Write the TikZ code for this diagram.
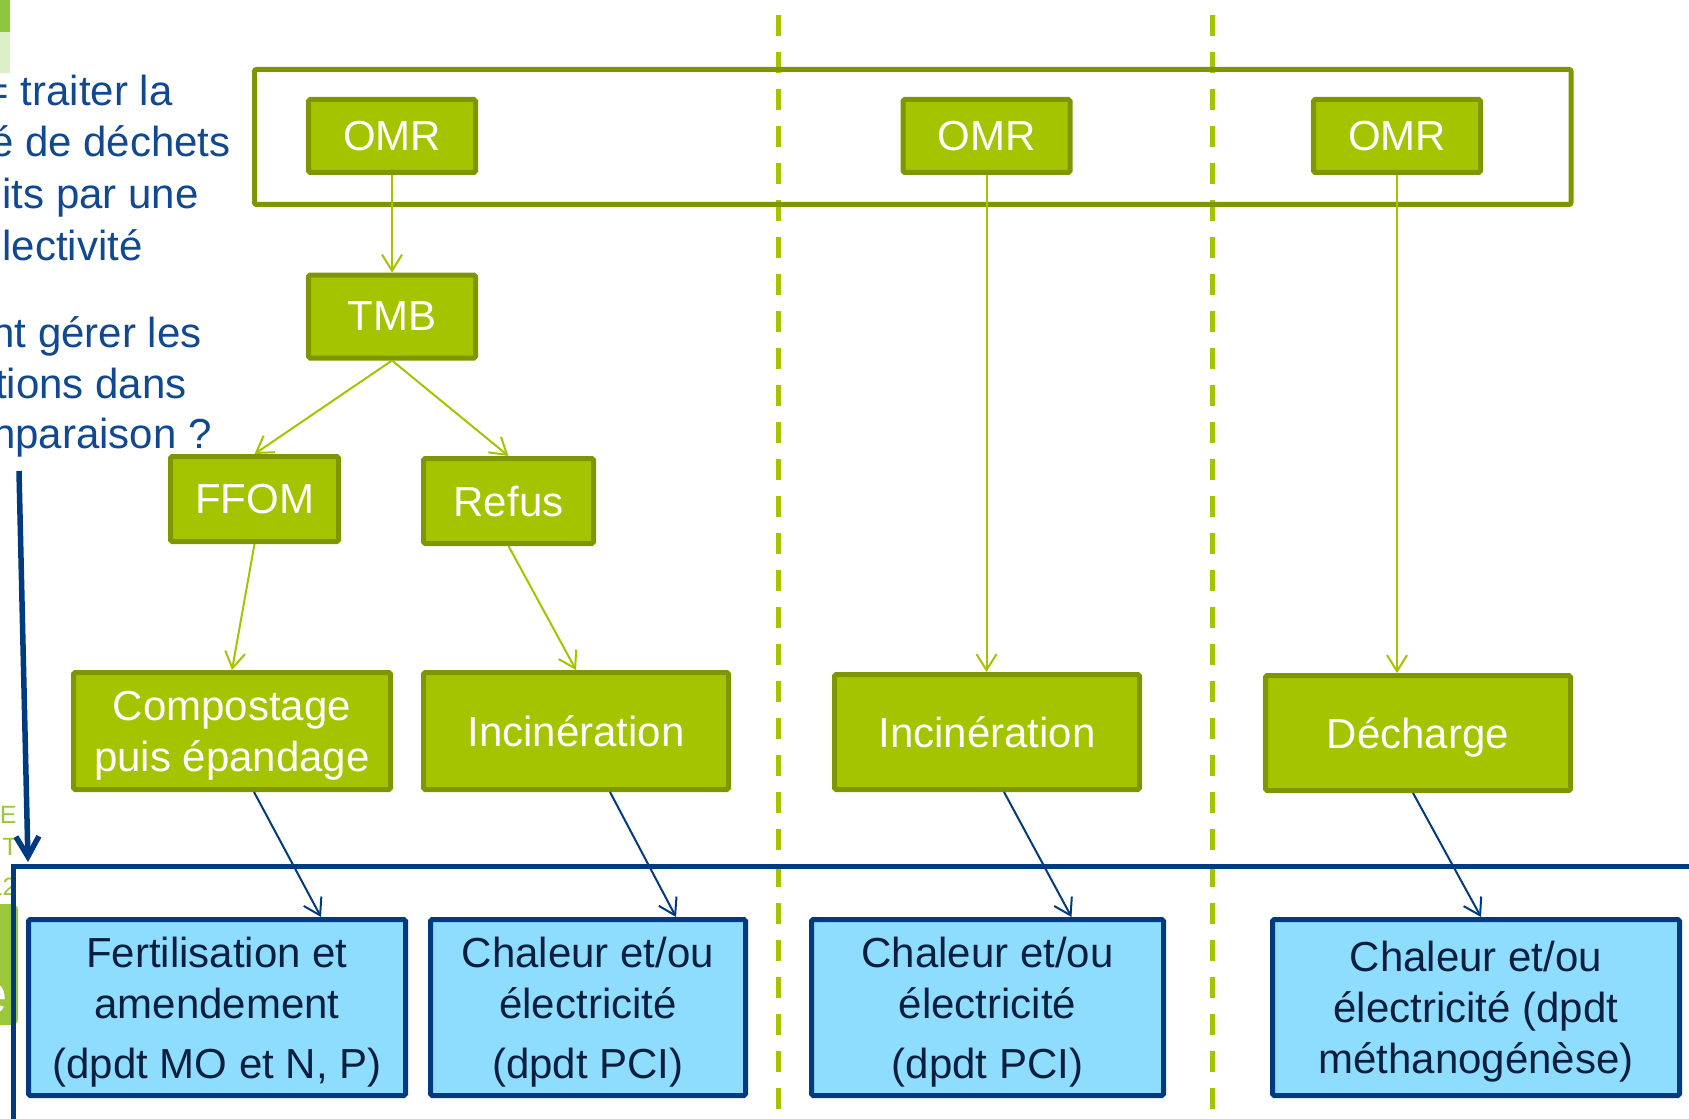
\documentclass[tikz,border=0pt]{standalone}
\usepackage{fontspec}
\setmainfont{Liberation Sans}
\usetikzlibrary{arrows.meta}

\definecolor{gfill}{RGB}{165,196,0}
\definecolor{gline}{RGB}{127,150,0}
\definecolor{bfill}{RGB}{142,221,255}
\definecolor{bline}{RGB}{0,58,128}
\definecolor{btext}{RGB}{10,30,62}
\definecolor{qtext}{RGB}{16,72,145}
\definecolor{fraggreen}{RGB}{155,200,58}
\definecolor{bardark}{RGB}{141,198,63}
\definecolor{barlight}{RGB}{220,239,198}

\tikzset{
  txt/.style={font=\fontsize{21pt}{25.5pt}\selectfont},
  gbox/.style={txt, draw=gline, fill=gfill, line width=2.5pt, rounded corners=0.8pt,
               text=white, align=center, inner sep=0pt, text depth=0pt},
  bbox/.style={txt, draw=bline, fill=bfill, line width=2.5pt, rounded corners=0.8pt,
               text=btext, align=center, inner sep=0pt, text depth=0pt},
  garrow/.style={draw=gfill, line width=1pt, -{Straight Barb[length=8pt,width=10pt,line width=1pt]}},
  barrow/.style={draw=bline, line width=1pt, -{Straight Barb[length=8pt,width=10pt,line width=1pt]}},
  bigarrow/.style={draw=bline, line width=2.75pt, -{Straight Barb[length=10pt,width=11.5pt,line width=2.75pt]}},
  sep/.style={draw=gfill, line width=2.5pt, dash pattern=on 10.5pt off 8pt},
  qline/.style={txt, text=qtext, anchor=base east, inner sep=0pt},
  frag/.style={font=\fontsize{12.5pt}{15pt}\selectfont, text=fraggreen, anchor=base east, inner sep=0pt}
}

\begin{document}
\begin{tikzpicture}[x=0.5pt,y=-0.5pt]
\useasboundingbox (0,0) rectangle (1689,1118);
\clip (0,0) rectangle (1689,1118);

% column separators
\draw[sep] (778,15) -- (778,1118);
\draw[sep] (1212,15) -- (1212,1118);

% leftover slide elements along the left edge
\fill[bardark] (0,0) rectangle (10,32);
\fill[barlight] (0,32) rectangle (10,73);
\node[frag] (fragE) at (17,823) {E};
\node[frag] (fragT) at (18,855) {T};
\node[frag] (frag12) at (17,895) {12};
\fill[fraggreen, rounded corners=3pt] (-20,904) rectangle (18,1025);
\node[anchor=base east, inner sep=0pt, text=white, font=\fontsize{28pt}{30pt}\selectfont] (frage) at (8,1013) {e};

% question text
\node[qline] (q1) at (173,106) {= traiter la};
\node[qline] (q2) at (231,157) {é de déchets};
\node[qline] (q3) at (199,208) {its par une};
\node[qline] (q4) at (143,260) {lectivité};
\node[qline] (q5) at (202,347) {nt gérer les};
\node[qline] (q6) at (187,398) {tions dans};
\node[qline] (q7) at (212,448) {nparaison ?};

% frame of the outputs row
\draw[bline, line width=2.5pt] (1700,866) -- (13,866) -- (13,1130);

% thick arrow into the outputs row
\coordinate (qtop) at (19,471);
\coordinate (qbot) at (28,862);
\draw[bigarrow] (qtop) -- (qbot);

% frame around the inputs
\draw[gline, line width=2.5pt, rounded corners=1pt] (254.5,69.5) rectangle (1571,204.5);

% treatment chain nodes
\node[gbox, minimum width=83.5pt, minimum height=36.5pt] (omr1) at (392,136) {OMR};
\node[gbox, minimum width=83.5pt, minimum height=36.5pt] (omr2) at (986.5,136) {OMR};
\node[gbox, minimum width=83.5pt, minimum height=36.5pt] (omr3) at (1397,136) {OMR};
\node[gbox, minimum width=83.5pt, minimum height=41.5pt] (tmb) at (392,316.5) {TMB};
\node[gbox, minimum width=84pt, minimum height=42.5pt] (ffom) at (254.5,499) {FFOM};
\node[gbox, minimum width=85pt, minimum height=42.5pt] (refus) at (508.5,501) {Refus};
\node[gbox, minimum width=158.5pt, minimum height=58.5pt] (comp) at (232,731) {Compostage\\puis épandage};
\node[gbox, minimum width=152.5pt, minimum height=58.5pt] (inc1) at (576,731) {Incinération};
\node[gbox, minimum width=152.5pt, minimum height=57.5pt] (inc2) at (987,732) {Incinération};
\node[gbox, minimum width=152.5pt, minimum height=57.5pt] (dech) at (1418,733) {Décharge};

% valorisation nodes
\node[bbox, minimum width=188.5pt, minimum height=88pt] (fert) at (217,1007.5)
  {Fertilisation et\\amendement\\[4.5pt](dpdt MO et N, P)};
\node[bbox, minimum width=157.5pt, minimum height=88pt] (ch1) at (588,1007.5)
  {Chaleur et/ou\\électricité\\[4.5pt](dpdt PCI)};
\node[bbox, minimum width=176pt, minimum height=88pt] (ch2) at (987.5,1007.5)
  {Chaleur et/ou\\électricité\\[4.5pt](dpdt PCI)};
\node[bbox, minimum width=203.5pt, minimum height=88pt] (ch3) at (1476,1007.5)
  {Chaleur et/ou\\électricité (dpdt\\méthanogénèse)};

% flows between treatments
\draw[garrow] (omr1.south) -- (tmb.north);
\draw[garrow] (tmb.south) -- (ffom.north);
\draw[garrow] (tmb.south) -- (refus.north);
\draw[garrow] (ffom.south) -- (comp.north);
\draw[garrow] (refus.south) -- (inc1.north);
\draw[garrow] (omr2.south) -- (omr2.south |- inc2.north);
\draw[garrow] (omr3.south) -- (omr3.south |- dech.north);

% flows to valorisation
\draw[barrow] ([xshift=11pt]comp.south) -- ([xshift=52pt]fert.north);
\draw[barrow] ([xshift=17pt]inc1.south) -- ([xshift=44pt]ch1.north);
\draw[barrow] ([xshift=8.5pt]inc2.south) -- ([xshift=42pt]ch2.north);
\draw[barrow] ([xshift=-2.5pt]dech.south) -- ([xshift=2.5pt]ch3.north);
\end{tikzpicture}
\end{document}
